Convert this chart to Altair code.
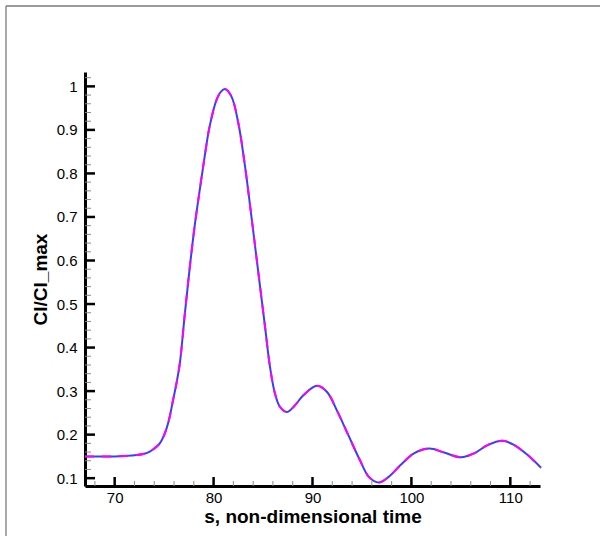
import altair as alt
import pandas as pd

# ---- data ----
s = [67.0, 68.5, 70.0, 71.0, 72.2, 73.0, 73.55, 74.0, 74.56, 75.07, 75.5, 75.9, 76.25,
     76.59, 77.1, 77.6, 78.08, 78.6, 79.1, 79.6, 80.3, 80.75, 81.15, 81.8, 82.5,
     83.18, 83.7, 84.2, 84.7, 85.2, 85.7, 86.2, 86.7, 87.4, 88.1, 89.1, 90.45,
     91.47, 92.5, 93.66, 94.8, 95.7, 96.7, 97.7, 98.9, 100.26, 101.8, 103.3,
     105.0, 106.35, 107.7, 109.2, 110.4, 111.76, 113.1]
cl_solid = [0.150, 0.150, 0.150, 0.151, 0.153, 0.156, 0.161, 0.168, 0.180, 0.203, 0.235, 0.279, 0.318,
            0.364, 0.479, 0.586, 0.678, 0.762, 0.839, 0.908, 0.969, 0.988, 0.994, 0.977, 0.916,
            0.816, 0.724, 0.632, 0.540, 0.448, 0.356, 0.295, 0.264, 0.252, 0.264, 0.291, 0.312,
            0.298, 0.254, 0.197, 0.141, 0.103, 0.090, 0.103, 0.130, 0.157, 0.168, 0.159,
            0.148, 0.157, 0.176, 0.186, 0.176, 0.153, 0.124]
cl_dashed = [0.150, 0.150, 0.150, 0.151, 0.153, 0.156, 0.161, 0.168, 0.180, 0.203, 0.235, 0.279, 0.318,
             0.364, 0.479, 0.586, 0.678, 0.762, 0.839, 0.908, 0.969, 0.988, 0.994, 0.977, 0.916,
             0.816, 0.724, 0.632, 0.540, 0.448, 0.356, 0.295, 0.264, 0.252, 0.264, 0.291, 0.312,
             0.298, 0.254, 0.197, 0.141, 0.103, 0.090, 0.103, 0.130, 0.157, 0.168, 0.159,
             0.148, 0.157, 0.176, 0.186, 0.176, 0.153, 0.124]

x_major = [70, 80, 90, 100, 110]
x_minor = [68, 72, 74, 76, 78, 82, 84, 86, 88, 92, 94, 96, 98, 102, 104, 106, 108, 112]
y_major = [0.1, 0.2, 0.3, 0.4, 0.5, 0.6, 0.7, 0.8, 0.9, 1.0]
y_minor = [0.12, 0.14, 0.16, 0.18, 0.22, 0.24, 0.26, 0.28, 0.32, 0.34, 0.36, 0.38,
           0.42, 0.44, 0.46, 0.48, 0.52, 0.54, 0.56, 0.58, 0.62, 0.64, 0.66, 0.68,
           0.72, 0.74, 0.76, 0.78, 0.82, 0.84, 0.86, 0.88, 0.92, 0.94, 0.96, 0.98, 1.02]
x_title = "s, non-dimensional time"
y_title = "Cl/Cl_max"

# ---- layout ----
W, H = 455, 414
PL, PT = 85, 72
TOTAL_W, TOTAL_H = 608, 538
FONT = "Liberation Sans"
xs = alt.Scale(domain=[67, 113], nice=False, zero=False)
ys = alt.Scale(domain=[0.082, 1.033], nice=False, zero=False)

df = pd.DataFrame({"s": s, "solid": cl_solid, "dashed": cl_dashed})

x_axis = alt.Axis(values=x_major, ticks=False, domainWidth=3, domainColor="black",
                  labelFontSize=15, labelFont=FONT, labelColor="black", labelPadding=4,
                  title=x_title, titleFont=FONT, titleFontSize=19, titleFontWeight="bold",
                  titleColor="black", titlePadding=2, grid=False, format="d")
y_axis = alt.Axis(values=y_major, ticks=False, domainWidth=3, domainColor="black",
                  labelFontSize=15, labelFont=FONT, labelColor="black", labelPadding=8,
                  title=y_title, titleFont=FONT, titleFontSize=19, titleFontWeight="bold",
                  titleColor="black", titlePadding=6, grid=False, format="~g")

one = pd.DataFrame({"k": [0]})
frame_left = alt.Chart(one).mark_rule(color="#7a7a7a", strokeWidth=1.3).encode(
    x=alt.value(6 - PL), y=alt.value(6 - PT), y2=alt.value(TOTAL_H - PT - 2))
frame_top = alt.Chart(one).mark_rule(color="#7a7a7a", strokeWidth=1.3).encode(
    x=alt.value(6 - PL), x2=alt.value(TOTAL_W - PL - 8), y=alt.value(6 - PT))

solid = alt.Chart(df).mark_line(color="#3c3cff", strokeWidth=2, interpolate="catmull-rom").encode(
    x=alt.X("s:Q", scale=xs, axis=x_axis),
    y=alt.Y("solid:Q", scale=ys, axis=y_axis),
)
dashed = alt.Chart(df).mark_line(color="#ff00ff", strokeWidth=2, strokeDash=[9, 8],
                                 interpolate="catmull-rom").encode(
    x=alt.X("s:Q", scale=xs, axis=x_axis),
    y=alt.Y("dashed:Q", scale=ys, axis=y_axis),
)

xmaj = alt.Chart(pd.DataFrame({"s": x_major})).mark_rule(color="black", strokeWidth=2.5).encode(
    x=alt.X("s:Q", scale=xs, axis=x_axis), y=alt.value(H), y2=alt.value(H - 9))
xmin = alt.Chart(pd.DataFrame({"s": x_minor})).mark_rule(color="#8a8a8a", strokeWidth=1).encode(
    x=alt.X("s:Q", scale=xs, axis=x_axis), y=alt.value(H), y2=alt.value(H - 5))
ymaj = alt.Chart(pd.DataFrame({"v": y_major})).mark_rule(color="black", strokeWidth=2.5).encode(
    y=alt.Y("v:Q", scale=ys, axis=y_axis), x=alt.value(0), x2=alt.value(10))
ymin = alt.Chart(pd.DataFrame({"v": y_minor})).mark_rule(color="#8a8a8a", strokeWidth=1).encode(
    y=alt.Y("v:Q", scale=ys, axis=y_axis), x=alt.value(0), x2=alt.value(6))

chart = alt.layer(frame_left, frame_top, solid, dashed, xmin, ymin, xmaj, ymaj).properties(
    width=W, height=H,
    autosize=alt.AutoSizeParams(type="none"),
    padding={"left": PL, "top": PT, "right": TOTAL_W - PL - W, "bottom": TOTAL_H - PT - H},
    background="white",
).configure_view(stroke=None)

chart.save("out.html", embed_options={"renderer": "svg", "actions": False})
